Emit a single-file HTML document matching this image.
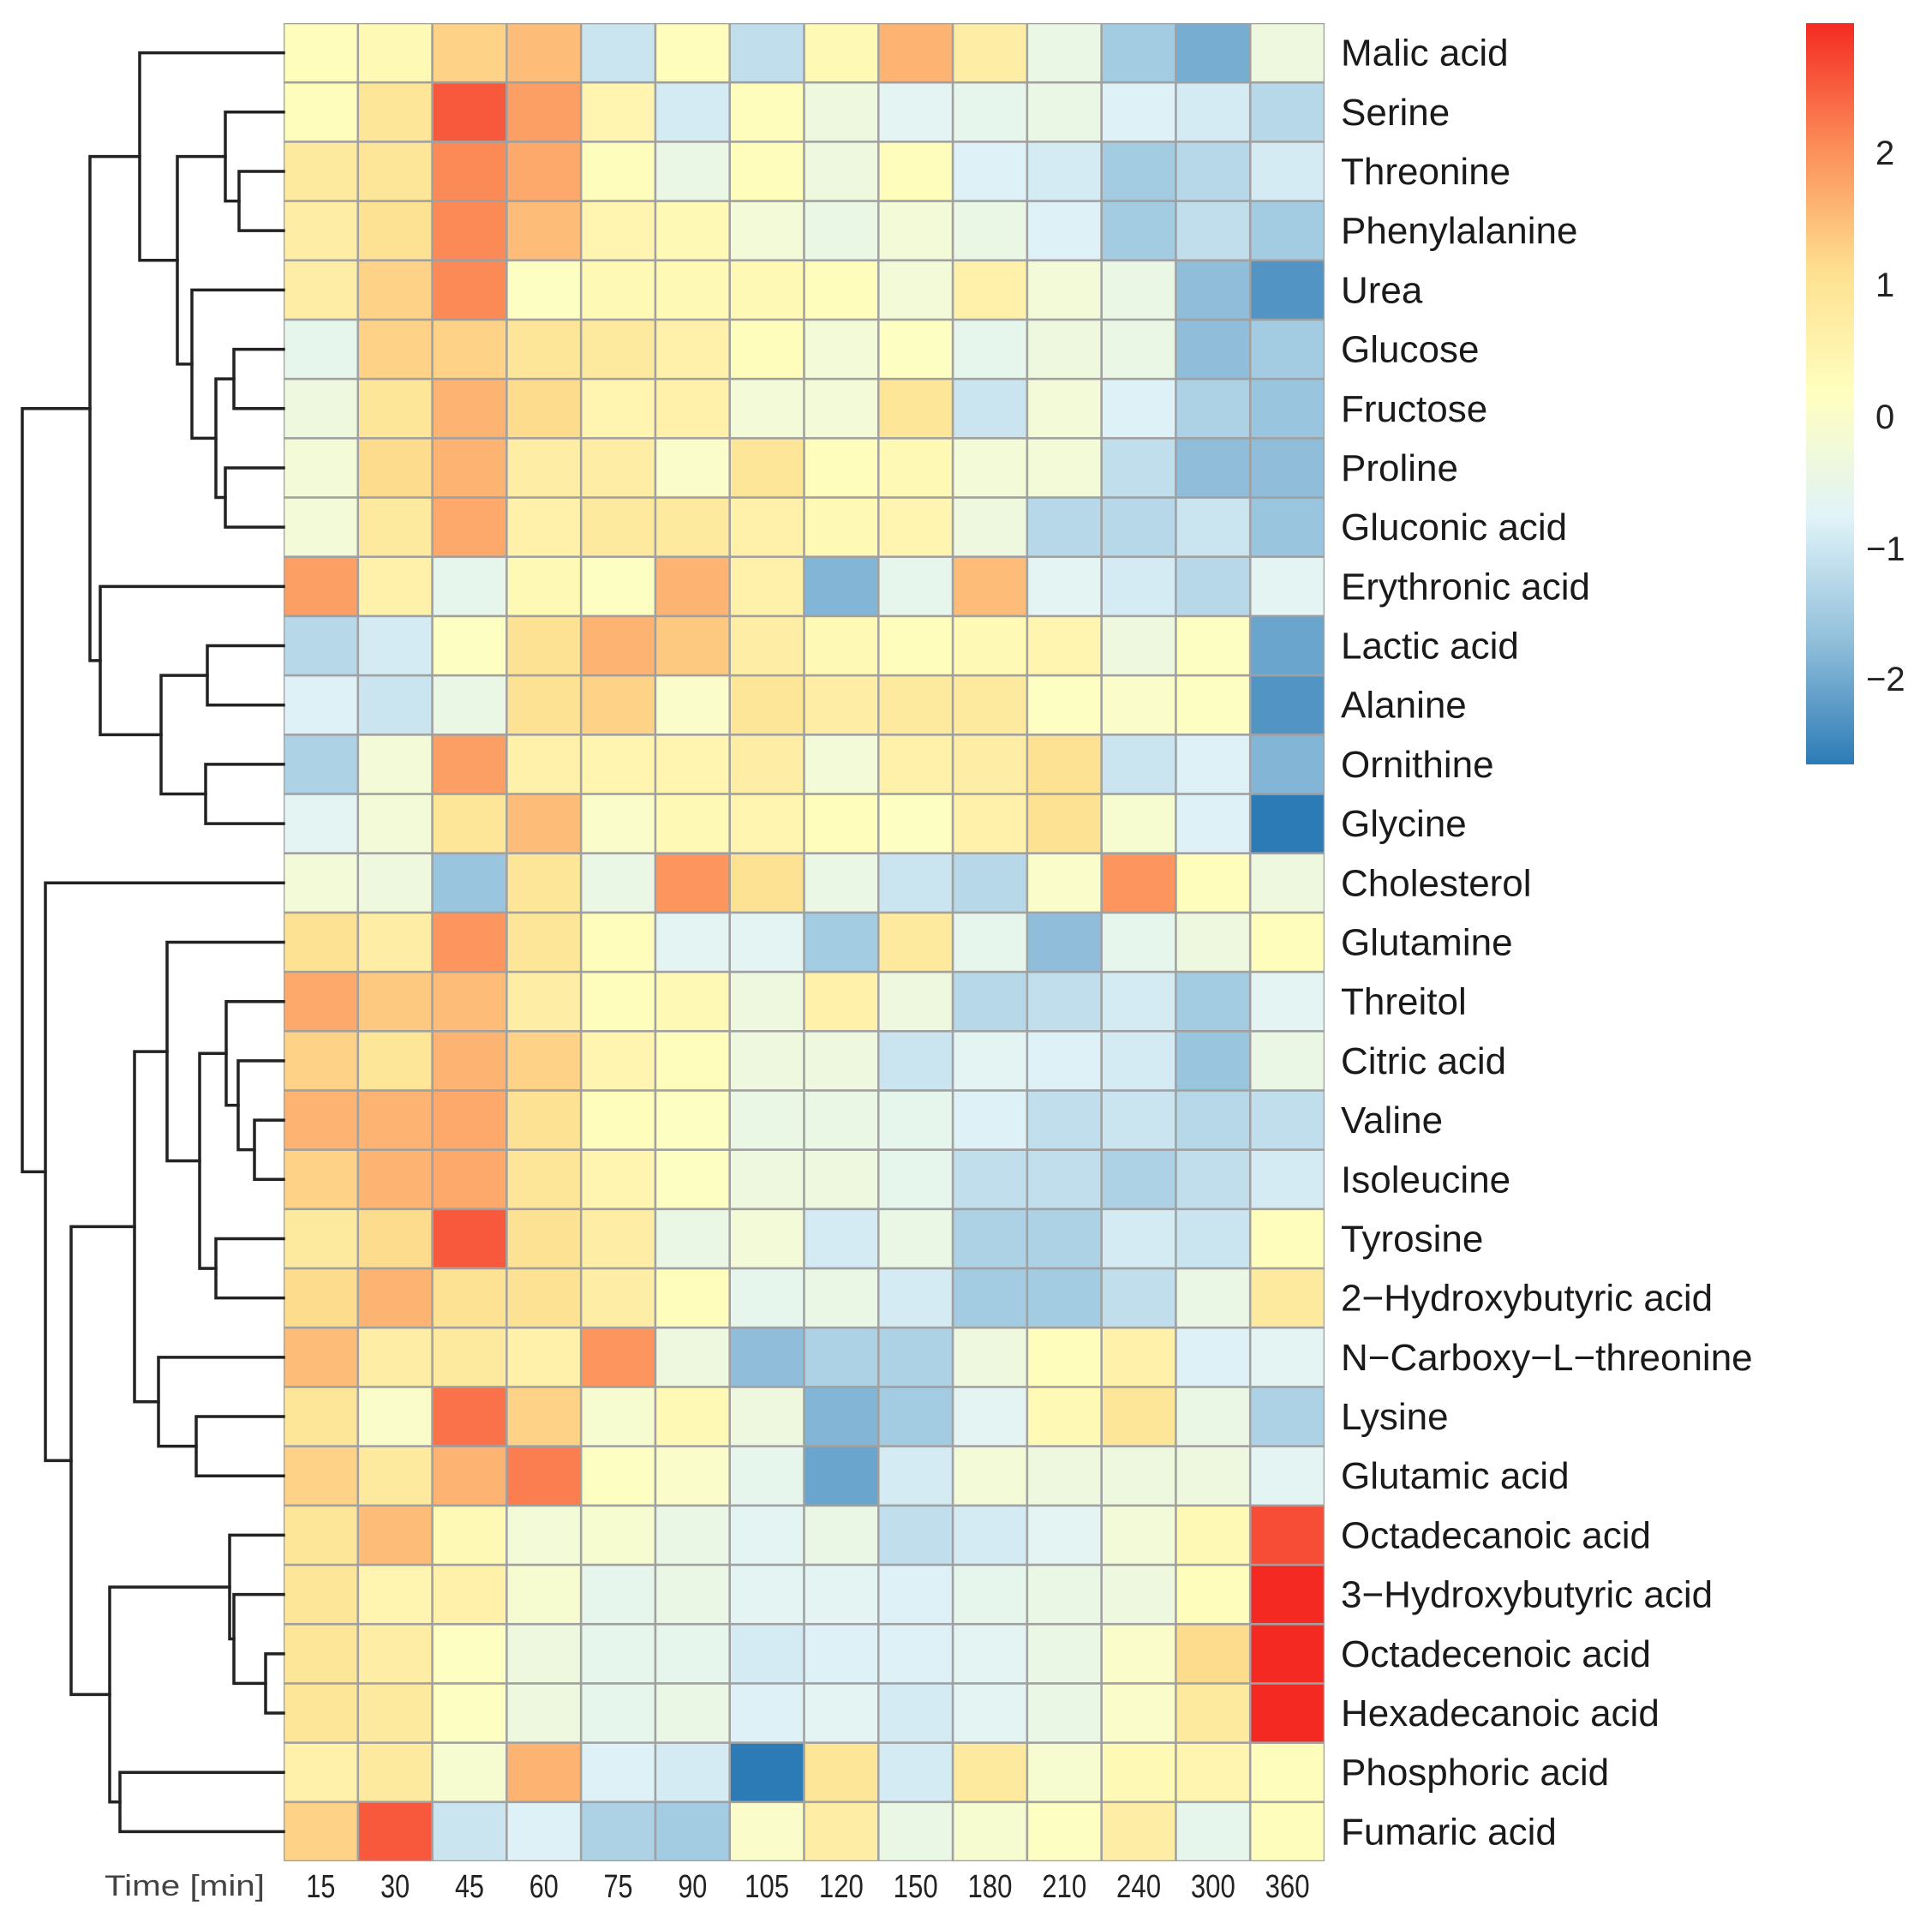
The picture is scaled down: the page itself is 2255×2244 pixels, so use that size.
<!DOCTYPE html>
<html><head><meta charset="utf-8">
<style>
html,body{margin:0;padding:0;background:#fff;}
svg{display:block;}
text{font-family:"Liberation Sans",sans-serif;}
</style></head>
<body>
<svg id="s" xmlns="http://www.w3.org/2000/svg" width="2255" height="2244" viewBox="0 0 2255 2244">
<defs>
<linearGradient id="cb" x1="0" y1="1" x2="0" y2="0">
<stop offset="0" stop-color="#2C7BB6"/>
<stop offset="0.1667" stop-color="#91BFDB"/>
<stop offset="0.3333" stop-color="#E0F3F8"/>
<stop offset="0.5" stop-color="#FFFFBF"/>
<stop offset="0.6667" stop-color="#FEE090"/>
<stop offset="0.8333" stop-color="#FC8D59"/>
<stop offset="1" stop-color="#F42A22"/>
</linearGradient>
</defs>
<g id="cells"></g>
<g id="dend" stroke="#222" stroke-width="3.5" fill="none" stroke-linecap="square"></g>
<g id="labels" font-size="44" fill="#1a1a1a"></g>
<g id="cols" font-size="38" fill="#222"></g>
<rect x="2108" y="27" width="56" height="865" fill="url(#cb)"/>
<g font-size="40" fill="#222">
<text x="2189" y="192">2</text>
<text x="2189" y="346">1</text>
<text x="2189" y="500">0</text>
<text x="2178" y="654">−1</text>
<text x="2178" y="806">−2</text>
</g>
</svg>
<script>
(function(){
var names=["Malic acid","Serine","Threonine","Phenylalanine","Urea","Glucose","Fructose","Proline","Gluconic acid","Erythronic acid","Lactic acid","Alanine","Ornithine","Glycine","Cholesterol","Glutamine","Threitol","Citric acid","Valine","Isoleucine","Tyrosine","2−Hydroxybutyric acid","N−Carboxy−L−threonine","Lysine","Glutamic acid","Octadecanoic acid","3−Hydroxybutyric acid","Octadecenoic acid","Hexadecanoic acid","Phosphoric acid","Fumaric acid"];
var V=[
[0.2,0.3,1.1,1.3,-0.9,0.2,-1.0,0.3,1.4,0.6,-0.4,-1.3,-1.7,-0.3],
[0.2,0.8,2.2,1.6,0.4,-0.8,0.2,-0.3,-0.6,-0.5,-0.4,-0.7,-0.8,-1.1],
[0.7,0.8,1.8,1.5,0.2,-0.4,0.2,-0.3,0.2,-0.7,-0.8,-1.3,-1.1,-0.8],
[0.6,0.9,1.8,1.3,0.4,0.3,-0.2,-0.4,-0.2,-0.4,-0.7,-1.3,-1.0,-1.3],
[0.6,1.1,1.8,0.1,0.3,0.3,0.3,0.2,-0.2,0.5,-0.2,-0.4,-1.5,-2.0],
[-0.5,1.1,1.1,0.8,0.7,0.5,0.2,-0.2,0.1,-0.5,-0.3,-0.4,-1.5,-1.3],
[-0.3,0.8,1.4,1.0,0.4,0.5,-0.2,-0.2,0.8,-0.9,-0.2,-0.7,-1.2,-1.4],
[-0.2,1.0,1.4,0.6,0.6,0.0,0.8,0.2,0.3,-0.2,-0.2,-1.0,-1.5,-1.5],
[-0.2,0.7,1.5,0.5,0.7,0.7,0.5,0.3,0.4,-0.3,-1.1,-1.1,-0.9,-1.4],
[1.6,0.5,-0.5,0.3,0.1,1.4,0.5,-1.6,-0.5,1.3,-0.6,-0.8,-1.1,-0.6],
[-1.1,-0.8,0.1,0.9,1.4,1.2,0.6,0.3,0.2,0.3,0.4,-0.3,0.1,-1.8],
[-0.7,-0.9,-0.4,0.9,1.1,0.0,0.8,0.6,0.7,0.7,0.1,0.0,0.1,-2.0],
[-1.2,-0.2,1.6,0.5,0.4,0.4,0.6,-0.2,0.5,0.6,0.9,-0.9,-0.7,-1.6],
[-0.6,-0.2,0.8,1.3,0.0,0.3,0.4,0.2,0.1,0.5,0.9,-0.1,-0.7,-2.6],
[-0.2,-0.3,-1.4,0.8,-0.4,1.7,0.9,-0.4,-0.9,-1.1,0.0,1.7,0.2,-0.3],
[0.9,0.6,1.7,0.8,0.2,-0.6,-0.6,-1.3,0.7,-0.5,-1.5,-0.5,-0.3,0.2],
[1.5,1.2,1.3,0.6,0.2,0.3,-0.3,0.5,-0.3,-1.1,-1.0,-0.8,-1.3,-0.6],
[1.1,0.8,1.4,1.1,0.4,0.2,-0.3,-0.3,-0.9,-0.6,-0.7,-0.8,-1.4,-0.4],
[1.4,1.4,1.5,0.9,0.2,0.1,-0.4,-0.4,-0.5,-0.7,-1.0,-0.9,-1.1,-1.0],
[1.1,1.4,1.5,0.8,0.4,0.1,-0.3,-0.3,-0.5,-1.0,-1.0,-1.2,-1.0,-0.8],
[0.7,1.0,2.2,0.9,0.6,-0.4,-0.2,-0.8,-0.4,-1.2,-1.2,-0.8,-0.9,0.2],
[1.0,1.4,0.9,0.9,0.6,0.2,-0.5,-0.4,-0.8,-1.3,-1.3,-1.0,-0.4,0.7],
[1.3,0.6,0.7,0.5,1.7,-0.3,-1.5,-1.2,-1.2,-0.3,0.2,0.5,-0.7,-0.6],
[0.8,0.0,2.0,1.1,-0.1,0.3,-0.3,-1.6,-1.3,-0.6,0.3,0.8,-0.4,-1.2],
[1.1,0.7,1.4,1.9,0.1,0.0,-0.5,-1.8,-0.8,-0.2,-0.3,-0.3,-0.3,-0.6],
[0.8,1.3,0.3,-0.2,-0.1,-0.4,-0.6,-0.4,-1.0,-0.8,-0.6,-0.2,0.3,2.3],
[0.8,0.4,0.5,-0.1,-0.5,-0.4,-0.6,-0.6,-0.7,-0.5,-0.4,-0.3,0.2,2.9],
[0.8,0.6,0.1,-0.3,-0.5,-0.5,-0.8,-0.7,-0.7,-0.6,-0.4,0.0,1.0,2.6],
[0.8,0.7,0.1,-0.3,-0.5,-0.4,-0.7,-0.6,-0.8,-0.6,-0.4,0.0,0.7,2.6],
[0.5,0.7,-0.1,1.4,-0.7,-0.8,-2.6,0.8,-0.8,0.7,-0.1,0.3,0.4,0.2],
[1.1,2.2,-0.9,-0.7,-1.2,-1.3,0.0,0.6,-0.4,-0.1,0.1,0.6,-0.5,0.2]];
var pal=[[44,123,182],[145,191,219],[224,243,248],[255,255,191],[254,224,144],[252,141,89],[244,42,34]];
var vmin=-2.65,vmax=2.98;
function col(v){v=v*1.15;if(v>2.98)v=2.98;var t=(v-vmin)/(vmax-vmin);t=Math.max(0,Math.min(1,t))*6;var i=Math.min(5,Math.floor(t)),f=t-i;var a=pal[i],b=pal[i+1];
return "rgb("+[0,1,2].map(function(k){return Math.round(a[k]+(b[k]-a[k])*f);}).join(",")+")";}
var NS="http://www.w3.org/2000/svg";
function el(p,tag,at,txt){var e=document.createElementNS(NS,tag);for(var k in at)e.setAttribute(k,at[k]);if(txt!=null)e.textContent=txt;p.appendChild(e);return e;}
var X0=331,Y0=27,CW=(1546-331)/14,RH=(2172-27)/31;
var g=document.getElementById("cells");
el(g,"rect",{x:X0,y:Y0,width:CW*14,height:RH*31,fill:"#a0a0a0"});
for(var r=0;r<31;r++)for(var c=0;c<14;c++){
el(g,"rect",{x:X0+c*CW+1.3,y:Y0+r*RH+1.3,width:CW-2.6,height:RH-2.6,fill:col(V[r][c])});}
var L=document.getElementById("labels");
for(var r2=0;r2<31;r2++)el(L,"text",{x:1565,y:Y0+r2*RH+RH/2+15},names[r2]);
var C=document.getElementById("cols");
var cl=["15","30","45","60","75","90","105","120","150","180","210","240","300","360"];
for(var c2=0;c2<14;c2++){var w=cl[c2].length==2?34:52;el(C,"text",{x:X0+c2*CW+CW/2,y:2214,"text-anchor":"middle",textLength:w,lengthAdjust:"spacingAndGlyphs"},cl[c2]);}
el(C,"text",{x:122,y:2212,textLength:187,lengthAdjust:"spacingAndGlyphs","font-size":"34",fill:"#444"},"Time [min]");
var D=document.getElementById("dend");
var tTop=[105,[163,0,[207,[263,1,[279,2,3]],[224,4,[252,[273,5,6],[263,7,8]]]]],[117,9,[188,[242,10,11],[240,12,13]]]];
var tBot=[53,14,[83,[157,[195,15,[233,[264,16,[278,17,[297,18,19]]],[252,20,21]]],[185,22,[229,23,24]]],[128,[268,25,[273,26,[310,27,28]]],[140,29,30]]]];
var tRoot=[26,tTop,tBot];
function draw(n){if(typeof n==="number")return {x:331,y:Y0+n*RH+RH/2};
var a=draw(n[1]),b=draw(n[2]),h=n[0];
el(D,"path",{d:"M"+a.x+" "+a.y+"H"+h+"V"+b.y+"H"+b.x});
return {x:h,y:(a.y+b.y)/2};}
draw(tRoot);
})();
</script>
</body></html>
